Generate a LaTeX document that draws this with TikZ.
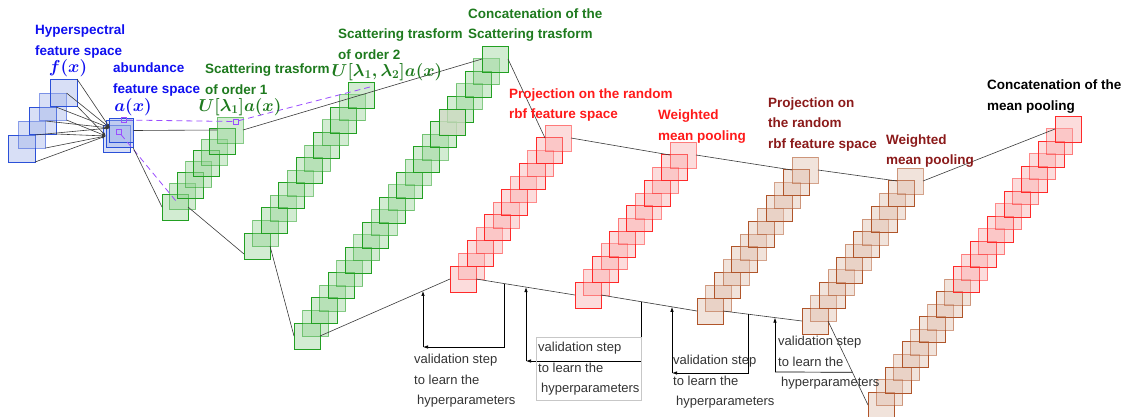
\documentclass[tikz,border=0pt]{standalone}
\usepackage[no-math]{fontspec}
\setmainfont{Liberation Sans}
\usetikzlibrary{arrows.meta}

\definecolor{hblue}{HTML}{2B50D8}
\definecolor{hbluefill}{HTML}{9DB0E8}
\definecolor{sgreen}{HTML}{22A022}
\definecolor{sgreenfill}{HTML}{8FD08F}
\definecolor{sgreendark}{HTML}{D2DCC6}
\definecolor{pred}{HTML}{FF2A2A}
\definecolor{predfill}{HTML}{F8A8A8}
\definecolor{pbrown}{HTML}{B0552A}
\definecolor{pbrownfill}{HTML}{DDB8A6}
\definecolor{txtblue}{HTML}{1010F0}
\definecolor{txtgreen}{HTML}{1E7A1E}
\definecolor{txtred}{HTML}{FF1A1A}
\definecolor{txtdarkred}{HTML}{8B1A1A}
\definecolor{dashviolet}{HTML}{9B4DFF}
\definecolor{linegray}{HTML}{3A3A3A}

\newcommand\sqcolumn[7]{%
  \foreach \sqi in {1,...,#2}{%
    \pgfmathsetmacro\sqx{#3+(#5-#3)*(\sqi-1)/(#2-1)}%
    \pgfmathsetmacro\sqy{#4+(#6-#4)*(\sqi-1)/(#2-1)}%
    \pgfmathsetmacro\sqo{isodd(\sqi) ? 1 : 0.55}%
    \node[#7, draw opacity=\sqo] (#1-\sqi) at (\sqx,\sqy) {};
  }%
}

\begin{document}
\begin{tikzpicture}[x=1pt, y=-1pt,
    sq/.style={rectangle, minimum size=26pt, inner sep=0pt, outer sep=0pt, line width=0.8pt, fill opacity=0.4},
    hsq/.style={sq, draw=hblue, fill=hbluefill, minimum size=27pt},
    gsq/.style={sq, draw=sgreen, fill=sgreenfill},
    rsq/.style={sq, draw=pred, fill=predfill},
    bsq/.style={sq, draw=pbrown, fill=pbrownfill},
    psq/.style={rectangle, draw=dashviolet, minimum size=5pt, inner sep=0pt, line width=0.6pt},
    link/.style={draw=linegray, line width=0.6pt},
    hlink/.style={link, -{Latex[length=4pt,width=2.5pt]}},
    pdash/.style={draw=dashviolet, line width=0.8pt, dash pattern=on 6pt off 4pt},
    vloop/.style={draw=black, line width=0.7pt, -{Latex[length=5pt,width=3.5pt]}},
    title/.style={font=\fontsize{13.5}{20.5}\selectfont\bfseries, align=left, anchor=west, inner sep=0pt},
    vlabel/.style={font=\fontsize{13}{20.5}\selectfont, text=black!80, align=left, anchor=west, inner sep=0pt},
    mlabel/.style={font=\fontsize{17}{20}\selectfont\boldmath, inner sep=0pt}]
\useasboundingbox (0,0) rectangle (1122,416);

\sqcolumn{h}{5}{21.5}{148.5}{63.5}{92.5}{hsq}
\node[hsq] (a-1) at (116.5,138.5) {};
\node[hsq] (a-2) at (119.5,134) {};
\node[hsq, minimum size=24pt] (a-3) at (121.5,130.5) {};
\node[psq] (p1) at (123.5,120) {};
\node[psq] (p2) at (118.5,131.5) {};

\sqcolumn{g1}{8}{175}{207}{230}{130}{gsq}
\sqcolumn{g2}{13}{257}{246}{361}{95}{gsq}
\sqcolumn{g3}{23}{307}{336}{495}{59}{gsq}
\node[gsq, fill=sgreendark, fill opacity=0.8] (g3-dark) at (g3-18) {};
\node[psq] (p3) at (235.5,121.5) {};

\sqcolumn{r1}{12}{463}{279}{558}{138}{rsq}
\sqcolumn{r2}{12}{588}{295}{683}{155}{rsq}
\sqcolumn{b1}{12}{710}{311}{805}{170}{bsq}
\sqcolumn{b2}{12}{815}{321}{910}{181}{bsq}
\sqcolumn{fb}{10}{881}{405}{957.5}{292.1}{bsq}
\sqcolumn{fr}{13}{966}{279.5}{1068}{129}{rsq}

\coordinate (ain1) at (110,128);
\coordinate (ain2) at (106,136);
\foreach \i in {1,...,5}{
    \draw[hlink] (h-\i.north east) -- (ain1);
    \draw[hlink] (h-\i.south east) -- (ain2);
}

\coordinate (p4) at (370,87);
\coordinate (p5) at (176,201);
\draw[pdash] (p1) -- (p3);
\draw[pdash] (p3) -- (p4);
\draw[pdash] (p2) -- (p5);

\draw[link] (a-3.east) -- (g1-8.west);
\draw[link] (a-2.south east) -- (g1-1.west);
\draw[link] (g1-8.east) -- (g3-23.west);
\draw[link] (g1-1.east) -- ([yshift=-8pt]g2-1.west);
\draw[link] (g2-1.east) -- (g3-1.west);
\draw[link] (g3-23.east) -- (r1-12.west);
\draw[link] (r1-12.east) -- (r2-12.west);
\draw[link] (r2-12.east) -- (b1-12.west);
\draw[link] (b1-12.east) -- (b2-12.west);
\draw[link] (b2-12.east) -- (fr-13.west);

\draw[link] (g3-1.east) -- coordinate[pos=0.79] (v1in) (r1-1.west);
\draw[link] (r1-1.east) -- coordinate[pos=0.29] (v1out) coordinate[pos=0.505] (v2in) (r2-1.west);
\draw[link] (r2-1.east) -- coordinate[pos=0.42] (v2out) coordinate[pos=0.74] (v3in) (b1-1.west);
\draw[link] (b1-1.east) -- coordinate[pos=0.32] (v3out) coordinate[pos=0.66] (v4in) (b2-1.west);
\draw[link] (b2-1.east) -- coordinate[pos=0.61] (v4out) (fb-1.west);

\coordinate (v1c) at (423,347);
\coordinate (v2c) at (526,361);
\coordinate (v3c) at (672,373);
\coordinate (v4c) at (775,372);
\draw[vloop] (v1out) |- (v1c);
\draw[vloop] (v1c) -- (v1c |- v1in);
\draw[vloop] (v2out) |- (v2c);
\draw[vloop] (v2c) -- (v2c |- v2in);
\draw[vloop] (v3out) |- (v3c);
\draw[vloop] (v3c) -- (v3c |- v3in);
\draw[vloop, -] (v4out) -- (v4c);
\draw[vloop] (v4c) -- (v4c |- v4in);

\node[vlabel] (v1lab) at (414,381) {validation step\\to learn the\\\hspace*{3pt}hyperparameters};
\node[vlabel, draw=black!22, inner xsep=2pt, inner ysep=5pt] (v2lab) at (536,369) {validation step\\to learn the\\\hspace*{3pt}hyperparameters};
\node[vlabel] (v3lab) at (673,382) {validation step\\to learn the\\\hspace*{3pt}hyperparameters};
\node[vlabel] (v4lab) at (778,363) {validation step\\to learn the\\\hspace*{3pt}hyperparameters};

\node[title, text=txtblue] (hyptitle) at (35,41.5) {Hyperspectral\\feature space};
\node[mlabel, text=txtblue] (fx) at (68,68) {$f(x)$};
\node[title, text=txtblue] (abtitle) at (113,79.5) {abundance\\feature space};
\node[mlabel, text=txtblue] (ax) at (133,107) {$a(x)$};
\node[title, text=txtgreen] (s1title) at (205,79) {Scattering trasform\\of order 1};
\node[mlabel, text=txtgreen] (u1) at (240,107) {$U[\lambda_1]a(x)$};
\node[title, text=txtgreen] (s2title) at (338,44) {Scattering trasform\\of order 2};
\node[mlabel, text=txtgreen] (u2) at (387,72) {$U[\lambda_1,\lambda_2]a(x)$};
\node[title, text=txtgreen] (sctitle) at (468,25) {Concatenation of the\\Scattering trasform};
\node[title, text=txtred] (p1title) at (509,105) {Projection on the random\\rbf feature space};
\node[title, text=txtred] (w1title) at (658,126.5) {Weighted\\mean pooling};
\node[title, text=txtdarkred] (p2title) at (768,124.5) {Projection on\\the random\\rbf feature space};
\node[title, text=txtdarkred] (w2title) at (886,151) {Weighted\\mean pooling};
\node[title] (mctitle) at (987,96.5) {Concatenation of the\\mean pooling};
\end{tikzpicture}
\end{document}
